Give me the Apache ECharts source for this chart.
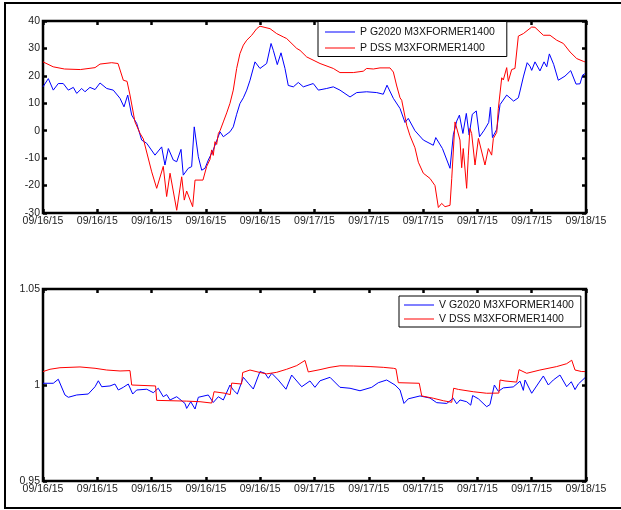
<!DOCTYPE html>
<html>
<head>
<meta charset="utf-8">
<script src="https://cdn.jsdelivr.net/npm/echarts@6/dist/echarts.min.js"></script>
<style>
html,body{margin:0;padding:0;background:#fff;}
#c{width:621px;height:510px;}
</style>
</head>
<body>
<div id="c"></div>
<script>
// x tick labels (one every 4.8 hours over 48 hours)
const tickLabels = ['09/16/15','09/16/15','09/16/15','09/16/15','09/16/15','09/17/15','09/17/15','09/17/15','09/17/15','09/17/15','09/18/15'];
const names = ['P G2020 M3XFORMER1400','P DSS M3XFORMER1400','V G2020 M3XFORMER1400','V DSS M3XFORMER1400'];

// P G2020 (hours, value)
const pgT = [0,0.47,0.91,1.35,1.79,2.24,2.68,2.98,3.42,3.71,4.15,4.6,5.04,5.63,6.21,6.81,7.16,7.49,7.84,8.28,8.72,9.17,9.9,10.49,10.78,11.08,11.52,11.82,12.2,12.4,12.84,13.14,13.37,13.73,14.03,14.32,14.61,15.05,15.65,15.94,16.53,16.82,17.12,17.41,17.56,17.71,18.01,18.3,18.74,19.18,19.77,20.16,20.36,20.71,21.04,21.39,21.68,22.13,22.57,23.01,23.89,24.34,25.08,25.66,26.25,27.14,27.73,28.61,29.5,30.08,30.41,30.97,31.56,32.0,32.29,32.88,33.62,34.5,34.72,35.31,35.98,36.27,36.57,36.81,37.12,37.42,37.67,37.95,38.3,38.59,39.0,39.4,39.55,39.73,40.11,40.4,40.99,41.6,42.02,42.17,42.46,42.8,43.05,43.2,43.49,43.93,44.29,44.53,44.76,45.14,45.55,46.14,46.65,47.12,47.47,47.7,47.91];
const pgV = [16,19,14.8,17.2,17.2,14.8,15.8,13.6,15.4,14.2,15.8,15,17.4,15.4,14.8,11.8,8.7,13,5.7,2.7,-3.4,-4.6,-8.9,-5.9,-12.5,-6.5,-10.7,-11.3,-6.8,-16.2,-13.7,-13.1,1.4,-9.5,-14.4,-13.7,-10.7,-7,-0.4,-2.2,-0.4,1.4,6,9.9,9.6,12,14.8,18.4,25.1,22.7,24.5,31.8,29.3,24.1,28.4,22.7,16.5,16,17.6,16,17.2,14.8,15.4,16,14.8,12.3,13.9,14.2,13.9,13.3,16.6,11.8,8.1,3.0,4.5,0,-3.4,-5.3,-2.5,-6.5,-13.7,-1.5,3.5,5.7,-1,6.3,-1.6,6.0,7.2,-2.2,0.2,3,8.6,-2.5,0.5,9.5,13,10.8,12,14.5,19.6,24.8,23.5,22,25.1,21.8,25.1,23.3,28,24.2,18.4,19.9,21.9,17,17.1,20.3,20.8];

// P DSS
const pdT = [0,0.9,1.9,3.3,4.6,5.04,6.07,6.63,7.1,7.43,7.69,8.13,8.57,8.87,9.61,10.05,10.63,10.93,11.23,11.82,12.26,12.49,12.7,13.23,13.44,14.14,14.47,14.76,14.91,15.05,15.2,15.35,15.5,15.65,15.94,16.24,16.53,16.82,17.12,17.41,17.71,18.01,18.45,18.89,19.18,20.07,20.66,21.24,21.54,22.43,22.72,23.31,24.49,25.66,26.25,27.43,28.31,28.61,29.2,29.79,30.67,30.97,31.27,31.56,31.71,32.15,32.44,32.88,33.18,33.62,34.21,34.65,34.95,35.24,35.54,35.98,36.13,36.42,36.57,36.86,37.01,37.15,37.45,37.6,37.74,37.89,38.19,38.49,38.63,39.07,39.37,39.66,39.81,40.11,40.25,40.55,40.69,40.99,41.13,41.43,41.72,42.02,42.46,43.2,43.34,43.49,44.23,44.82,45.41,46.0,46.59,47.18,47.76,47.91];
const pdV = [25.1,23.3,22.5,22.3,23.0,24.3,24.8,24.5,18.4,18.0,13.0,3.2,-0.9,-3.0,-15,-21,-13,-24,-15.5,-29,-16.8,-25.3,-22,-27.7,-18,-18,-13,-10.5,-7,-9,-4,-5,-1,0,3.2,6.5,10,14.8,22.7,28.1,31.2,33,34.8,37.2,38.1,37.2,35.4,34.2,33.6,30,29.3,26.9,24.5,22.7,21.2,21.2,21.7,22.7,22.5,22.9,22.9,21.4,16.3,12.0,11.1,2.0,-1.8,-6.2,-11.5,-15.5,-17.4,-20,-28,-26.5,-27.7,-27.2,-17.5,3.2,2.7,-3.4,-13.5,-6.5,-21,-8.9,0.8,-1,-12.5,-2.8,-3.4,-12.5,-6.5,-8.9,-2.8,-0.6,8.1,19.3,18.5,23.0,18.0,22.3,22.7,34.5,35.4,37.8,38.1,37.7,34.8,34.8,33,31.8,28.7,26.3,25.3,25.1];

// V G2020
const vgT = [0,0.91,1.35,1.94,2.24,2.98,4.0,4.6,4.89,5.19,5.92,6.36,6.66,7.1,7.54,7.93,8.28,9.17,9.75,10.19,10.63,10.93,11.23,11.82,12.55,12.7,13.06,13.44,13.73,14.61,15.05,15.5,15.94,16.53,16.82,17.18,17.71,18.15,18.59,19.18,19.62,19.92,20.22,20.8,21.48,21.98,22.87,23.6,24.04,24.49,25.37,26.25,27.14,28.02,29.06,29.64,30.38,31.12,31.56,31.91,32.29,33.33,34.21,34.8,35.69,36.27,36.57,36.86,37.45,37.81,37.98,38.49,39.22,39.51,39.9,40.25,40.69,41.57,42.17,42.46,42.61,43.2,44.23,44.67,45.11,45.7,46.29,46.7,47.03,47.32,47.91];
const vgV = [1.0009,1.0009,1.0030,0.9948,0.9936,0.9948,0.9953,0.9991,1.0022,0.9991,0.9995,1.0005,0.9974,0.9988,1.0005,0.9953,0.9974,0.9978,0.9960,0.9983,0.9939,0.9950,0.9922,0.9939,0.9904,0.9878,0.9913,0.9875,0.9936,0.9948,0.9909,0.9939,0.9922,1.0000,0.9974,0.9953,1.0040,1.0009,0.9979,1.0070,1.0061,1.0035,1.0061,1.0026,0.9978,1.0052,0.9991,1.0021,0.9988,1.0022,1.0040,0.9988,0.9983,0.9970,0.9988,1.0012,1.0026,1.0000,0.9974,0.9904,0.9928,0.9943,0.9932,0.9908,0.9904,0.9931,0.9902,0.9922,0.9913,0.9895,0.9945,0.9928,0.9887,0.9898,1.0000,0.9967,0.9985,0.9990,1.0020,0.9972,1.0026,0.9957,1.0047,1.0000,1.0026,1.0052,0.9991,1.0017,0.9976,1.0005,1.0038];

// V DSS
const vdT = [0,0.62,1.5,3.27,4.6,5.63,6.81,7.69,7.84,9.95,10.05,12.7,13.88,14.91,15.12,16.09,16.55,16.68,17.55,17.65,18.3,19.18,19.77,20.66,21.54,22.43,23.16,23.45,24.49,25.37,26.25,27.43,28.91,30.08,30.97,31.2,31.41,33.26,33.48,34.5,35.39,36.13,36.3,36.72,38.04,39.22,40.3,40.4,40.84,41.87,42.08,42.76,43.93,45.41,46.29,46.74,47.03,47.62,47.91];
const vdV = [1.0070,1.0082,1.0090,1.0094,1.0087,1.0078,1.0073,1.0075,1.0000,0.9995,0.9920,0.9916,0.9913,0.9906,0.9965,0.9957,0.9950,1.0010,1.0005,1.0065,1.0078,1.0065,1.0058,1.0066,1.0082,1.0101,1.0128,1.0068,1.0080,1.0092,1.0100,1.0099,1.0096,1.0092,1.0087,1.0084,1.0012,1.0009,0.9943,0.9931,0.9918,0.9910,0.9983,0.9977,0.9965,0.9957,0.9958,1.0026,1.0021,1.0015,1.0080,1.0061,1.0078,1.0096,1.0111,1.0129,1.0078,1.0070,1.0070];

const zip = (t, v) => t.map((x, i) => [x, v[i]]);
const FONT = 'Liberation Sans';
const labelStyle = {color: '#222', fontSize: 10.5, fontFamily: FONT};
const tick = {show: true, inside: true, length: 4, lineStyle: {color: '#000', width: 2.5}};

function xAx(grid, pos, labels) {
  return {
    type: 'value', gridIndex: grid, position: pos, min: 0, max: 48, interval: 4.8,
    axisLine: {show: false, onZero: false}, splitLine: {show: false}, axisTick: tick,
    axisLabel: labels ? Object.assign({margin: 3, formatter: v => tickLabels[Math.round(v / 4.8)]}, labelStyle) : {show: false}
  };
}
function yAx(grid, pos, min, max, interval, labels) {
  return {
    type: 'value', gridIndex: grid, position: pos, min: min, max: max, interval: interval,
    axisLine: {show: false, onZero: false}, splitLine: {show: false}, axisTick: tick,
    axisLabel: labels ? Object.assign({margin: 3}, labelStyle) : {show: false}
  };
}
function legend(top, left, data, pad, lh, gap) {
  return {
    orient: 'vertical', left: left, top: top, data: data,
    icon: 'rect', itemWidth: 30, itemHeight: 1, itemGap: gap,
    padding: pad, borderColor: '#000', borderWidth: 1, backgroundColor: '#fff',
    textStyle: {color: '#111', fontSize: 10.5, fontFamily: FONT, lineHeight: lh}
  };
}
const line = (name, data, color, xi, yi) => ({
  name: name, type: 'line', data: data, xAxisIndex: xi, yAxisIndex: yi,
  showSymbol: false, symbol: 'none', lineStyle: {color: color, width: 1}, itemStyle: {color: color}, animation: false
});

const chart = echarts.init(document.getElementById('c'), null, {renderer: 'canvas'});
chart.setOption({
  animation: false,
  backgroundColor: '#fff',
  grid: [
    {left: 43, top: 21, width: 543, height: 192, show: true, borderColor: '#000', borderWidth: 2.5, backgroundColor: 'transparent'},
    {left: 43, top: 289, width: 543, height: 192, show: true, borderColor: '#000', borderWidth: 2.5, backgroundColor: 'transparent'}
  ],
  xAxis: [xAx(0, 'bottom', true), xAx(0, 'top', false), xAx(1, 'bottom', true), xAx(1, 'top', false)],
  yAxis: [yAx(0, 'left', -30, 40, 10, true), yAx(0, 'right', -30, 40, 10, false),
          yAx(1, 'left', 0.95, 1.05, 0.05, true), yAx(1, 'right', 0.95, 1.05, 0.05, false)],
  legend: [
    legend(21.5, 318, [names[0], names[1]], [4, 12, 2, 7], 13, 3),
    legend(296, 399, [names[2], names[3]], [3, 7, 2, 5], 12, 2)
  ],
  series: [
    line(names[0], zip(pgT, pgV), '#0000ff', 0, 0),
    line(names[1], zip(pdT, pdV), '#ff0000', 0, 0),
    line(names[2], zip(vgT, vgV), '#0000ff', 2, 2),
    line(names[3], zip(vdT, vdV), '#ff0000', 2, 2)
  ],
  graphic: [{
    type: 'rect', silent: true, z: 100,
    shape: {x: 5, y: 3, width: 640, height: 505},
    style: {fill: 'none', stroke: '#000', lineWidth: 2}
  }]
});
</script>
</body>
</html>
